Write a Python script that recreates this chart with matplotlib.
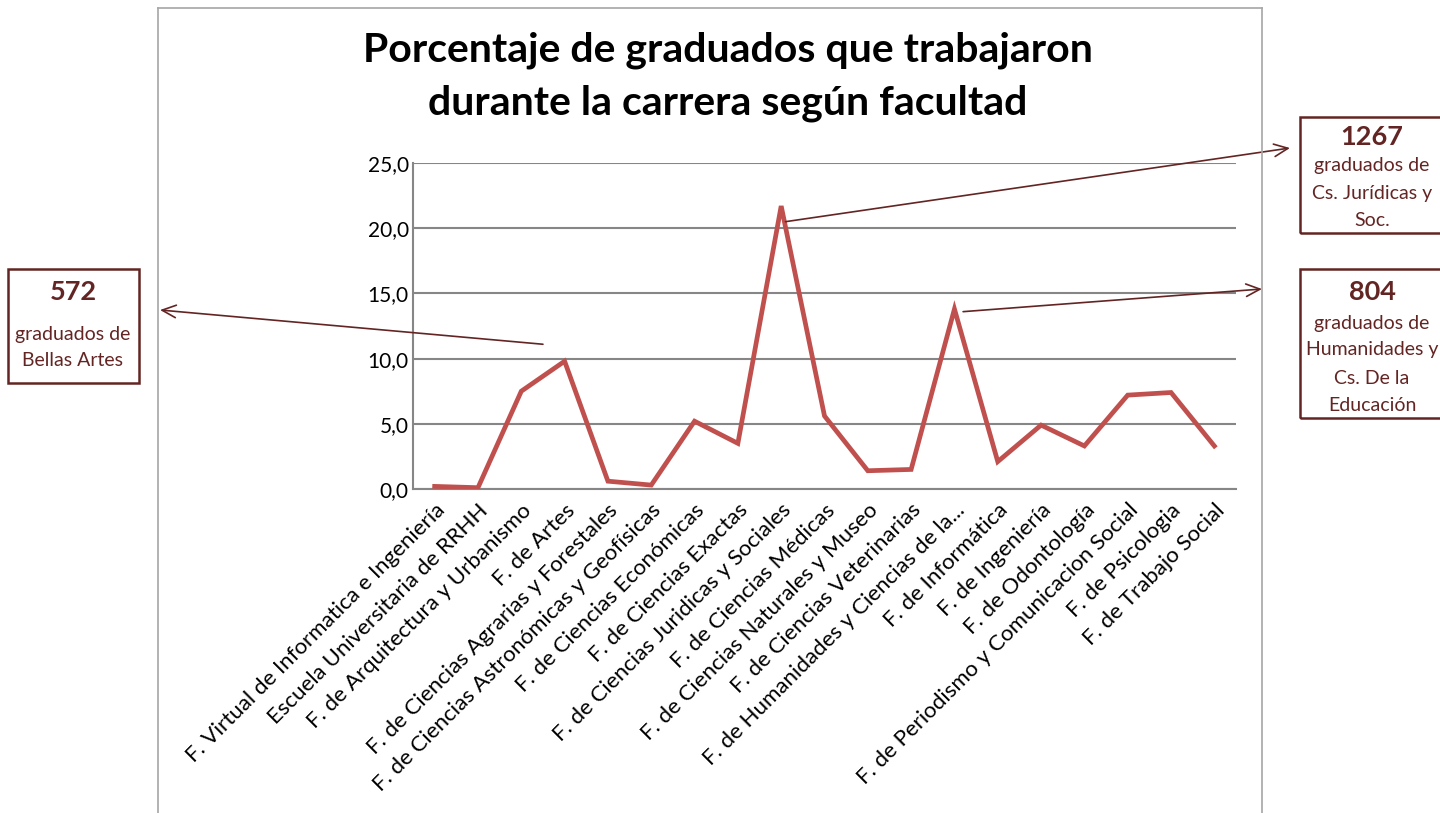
import matplotlib.pyplot as plt
from matplotlib.patches import Rectangle
from matplotlib.lines import Line2D

# datos
facultades = [
    'F. Virtual de Informatica e Ingeniería',
    'Escuela Universitaria de RRHH',
    'F. de Arquitectura y Urbanismo',
    'F. de Artes',
    'F. de Ciencias Agrarias y Forestales',
    'F. de Ciencias Astronómicas y Geofísicas',
    'F. de Ciencias Económicas',
    'F. de Ciencias Exactas',
    'F. de Ciencias Juridicas y Sociales',
    'F. de Ciencias Médicas',
    'F. de Ciencias Naturales y Museo',
    'F. de Ciencias Veterinarias',
    'F. de Humanidades y Ciencias de la...',
    'F. de Informática',
    'F. de Ingeniería',
    'F. de Odontología',
    'F. de Periodismo y Comunicacion Social',
    'F. de Psicologia',
    'F. de Trabajo Social',
]
porcentaje = [0.2, 0.1, 7.5, 9.8, 0.6, 0.3, 5.2, 3.5, 21.7, 5.6, 1.4, 1.5, 13.8, 2.1, 4.9, 3.3, 7.2, 7.4, 3.3]

y_ticks = [0, 5, 10, 15, 20, 25]

# cuadros de texto: (numero, lineas)
notas = [
    ('572', ['graduados de', 'Bellas Artes']),
    ('1267', ['graduados de', 'Cs. Jurídicas y', 'Soc.']),
    ('804', ['graduados de', 'Humanidades y', 'Cs. De la', 'Educación']),
]

plt.rcParams['font.family'] = ['Lato', 'DejaVu Sans']

W, H = 1440, 813
fig = plt.figure(figsize=(W / 100, H / 100), dpi=100)


def fx(px):
    return px / W


def fy(py):
    return 1 - py / H


oscuro = '#632523'
gris = '#868686'

# borde del area del grafico
for xs, ys in [((158, 158), (8, 813)), ((1262, 1262), (8, 813)), ((158, 1262), (8, 8))]:
    fig.add_artist(Line2D([fx(xs[0]), fx(xs[1])], [fy(ys[0]), fy(ys[1])], color='#a6a6a6', lw=1.2))

ax = fig.add_axes([fx(413), fy(489), fx(1236) - fx(413), (489 - 163) / H])
x = list(range(len(facultades)))
ax.plot(x, porcentaje, color='#C0504D', lw=3.4, solid_joinstyle='miter', zorder=3)
ax.set_xlim(-0.5, len(facultades) - 0.5)
ax.set_ylim(0, 25)
ax.set_yticks(y_ticks)
ax.set_yticklabels([('%.1f' % v).replace('.', ',') for v in y_ticks], fontsize=15)
ax.set_xticks(x)
ax.set_xticklabels(facultades, rotation=45, ha='right', rotation_mode='anchor', fontsize=16)
ax.tick_params(axis='y', length=0, pad=3)
ax.tick_params(axis='x', length=0, pad=8)
ax.grid(axis='y', color=gris, lw=1.5)
ax.set_axisbelow(True)
for s in ['top', 'right']:
    ax.spines[s].set_visible(False)
ax.spines['left'].set_color(gris)
ax.spines['bottom'].set_color(gris)
ax.spines['left'].set_linewidth(1.5)
ax.spines['bottom'].set_linewidth(1.5)

fig.text(fx(728), fy(50), 'Porcentaje de graduados que trabajaron',
         ha='center', va='center', fontsize=29.5, fontweight='bold')
fig.text(fx(728), fy(103), 'durante la carrera según facultad',
         ha='center', va='center', fontsize=29.5, fontweight='bold')

# cuadros
cajas = [(8, 269, 131, 114, 73, [292, 334, 360]),
         (1300, 117, 150, 116, 1372, [137, 165, 193, 220]),
         (1300, 269, 150, 149, 1372, [292, 323, 350, 378, 405])]
for (numero, lineas), (bx, by, bw, bh, cx, ys) in zip(notas, cajas):
    fig.add_artist(Rectangle((fx(bx), fy(by + bh)), bw / W, bh / H, fill=False, ec=oscuro, lw=1.8))
    fig.text(fx(cx), fy(ys[0]), numero, ha='center', va='center', fontsize=19.5, fontweight='bold', color=oscuro)
    for t, yy in zip(lineas, ys[1:]):
        fig.text(fx(cx), fy(yy), t, ha='center', va='center', fontsize=14, color=oscuro)

# flechas
flechas = [((160, 310), (2.5, 11.1)), ((1290, 148), (8.1, 20.5)), ((1262, 289), (12.2, 13.6))]
for punta, origen in flechas:
    ax.annotate('', xy=(fx(punta[0]), fy(punta[1])), xycoords='figure fraction',
                xytext=origen, textcoords='data',
                arrowprops=dict(arrowstyle='->,head_length=1.0,head_width=0.45', color=oscuro, lw=1.2,
                                shrinkA=0, shrinkB=0), annotation_clip=False)

fig.savefig('out.png', dpi=100)
